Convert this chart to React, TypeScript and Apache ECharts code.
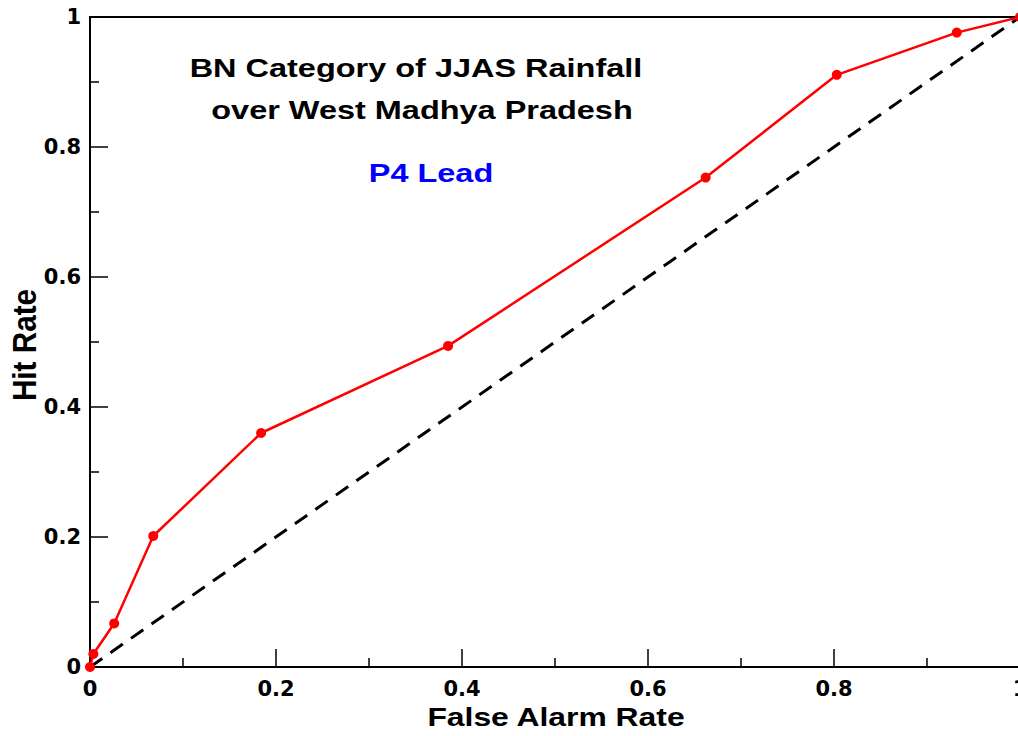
import React, { useEffect, useRef } from "react";
import * as echarts from "echarts";

const falseAlarmRates = [0, 0.0036, 0.026, 0.068, 0.184, 0.385, 0.662, 0.803, 0.932, 1];
const hitRates = [0, 0.02, 0.067, 0.2015, 0.36, 0.494, 0.753, 0.911, 0.976, 1];
const diagonalX = [0, 1];
const diagonalY = [0, 1];

const titleLine1 = "BN Category of JJAS Rainfall";
const titleLine2 = "over West Madhya Pradesh";
const leadLabel = "P4 Lead";
const xAxisTitle = "False Alarm Rate";
const yAxisTitle = "Hit Rate";

const TICK_FONT = "'DejaVu Sans', sans-serif";
const TEXT_FONT = "'Liberation Sans', Arial, sans-serif";

export default function App() {
  const ref = useRef<HTMLDivElement>(null);
  useEffect(() => {
    if (!ref.current) return;
    const chart = echarts.init(ref.current, null, { renderer: "svg" });
    const axisCommon = {
      type: "value",
      min: 0,
      max: 1,
      interval: 0.2,
      splitLine: { show: false },
      axisLine: { show: true, lineStyle: { color: "#000", width: 2 } },
      axisTick: { show: true, inside: true, length: 18, lineStyle: { color: "#000", width: 1.5 } },
      minorTick: { show: true, splitNumber: 2, length: 9, lineStyle: { color: "#000", width: 1.5 } },
      axisLabel: { color: "#000", fontFamily: TICK_FONT, fontWeight: "bold", fontSize: 21 },
    };
    const sx = 1.225;
    chart.setOption({
      animation: false,
      backgroundColor: "#fff",
      grid: {
        left: 90,
        top: 17,
        width: 930,
        height: 650,
        show: true,
        borderColor: "#000",
        borderWidth: 2,
        containLabel: false,
        outerBoundsMode: "none",
      },
      xAxis: { ...axisCommon, axisLabel: { ...axisCommon.axisLabel, margin: 11 } },
      yAxis: { ...axisCommon, axisLabel: { ...axisCommon.axisLabel, margin: 9 } },
      series: [
        {
          type: "line",
          data: diagonalX.map((x, i) => [x, diagonalY[i]]),
          symbol: "none",
          lineStyle: { color: "#000", width: 3, type: [15, 10] },
          z: 2,
        },
        {
          type: "line",
          data: falseAlarmRates.map((x, i) => [x, hitRates[i]]),
          symbol: "circle",
          symbolSize: 10,
          itemStyle: { color: "#ff0000" },
          lineStyle: { color: "#ff0000", width: 2.5 },
          z: 3,
        },
      ],
      graphic: [
        {
          type: "text",
          x: 416,
          y: 68,
          scaleX: sx,
          style: { text: titleLine1, fill: "#000", font: `bold 26.5px ${TEXT_FONT}`, textAlign: "center", textVerticalAlign: "middle" },
        },
        {
          type: "text",
          x: 422,
          y: 110,
          scaleX: sx,
          style: { text: titleLine2, fill: "#000", font: `bold 26.5px ${TEXT_FONT}`, textAlign: "center", textVerticalAlign: "middle" },
        },
        {
          type: "text",
          x: 431,
          y: 173,
          scaleX: sx,
          style: { text: leadLabel, fill: "#0000ff", font: `bold 26.5px ${TEXT_FONT}`, textAlign: "center", textVerticalAlign: "middle" },
        },
        {
          type: "text",
          x: 25,
          y: 345,
          rotation: Math.PI / 2,
          scaleX: 1.1,
          scaleY: sx,
          style: { text: yAxisTitle, fill: "#000", font: `bold 27px ${TEXT_FONT}`, textAlign: "center", textVerticalAlign: "middle" },
        },
        {
          type: "text",
          x: 556,
          y: 717,
          scaleX: sx,
          style: { text: xAxisTitle, fill: "#000", font: `bold 26px ${TEXT_FONT}`, textAlign: "center", textVerticalAlign: "middle" },
        },
      ],
    });
    return () => chart.dispose();
  }, []);
  return (
    <div
      ref={ref}
      style={{ position: "fixed", left: 0, top: 0, width: 1018, height: 736, background: "#fff" }}
    />
  );
}
